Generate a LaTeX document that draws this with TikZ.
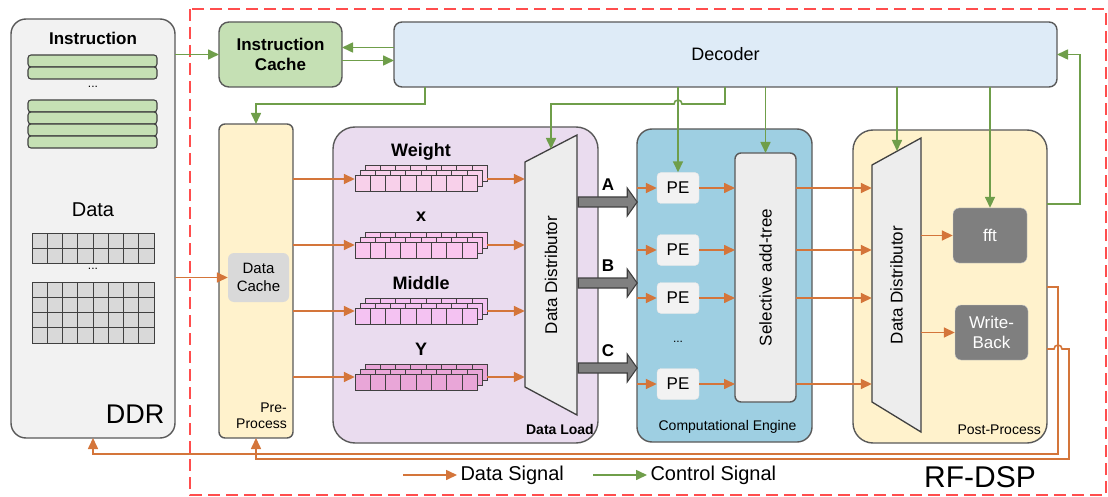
\documentclass[tikz,border=0pt]{standalone}
\usepackage{fontspec}
\setmainfont{Liberation Sans}
\usepackage{tikz}
\usetikzlibrary{arrows.meta,calc,positioning}
\definecolor{ddrgray}{HTML}{F2F2F2}
\definecolor{instgreen}{HTML}{C5E0B4}
\definecolor{decblue}{HTML}{DEEBF7}
\definecolor{preyellow}{HTML}{FFF2CC}
\definecolor{loadpurple}{HTML}{EADCEF}
\definecolor{engblue}{HTML}{9ECFE2}
\definecolor{distgray}{HTML}{EDEDED}
\definecolor{cellgray}{HTML}{D9D9D9}
\definecolor{darkbox}{HTML}{7F7F7F}
\definecolor{ctrlgreen}{HTML}{6F9E4A}
\definecolor{dataorange}{HTML}{D4753A}
\definecolor{dsred}{HTML}{FF4D4D}
\definecolor{wpink}{HTML}{F8D0EA}
\definecolor{xpink}{HTML}{FAC6EE}
\definecolor{mpink}{HTML}{F4C2F2}
\definecolor{ypink}{HTML}{E9A6D8}
\newcommand{\pxfont}[1]{\fontsize{#1}{\fpeval{1.15*#1}}\selectfont}
\newcommand{\regstack}[3]{% x, y of front row, fill
	\foreach \k in {2,1,0}
		\foreach \i in {0,...,7}
			\draw[cell, fill=#3] ({#1+\k*5+\i*15.3},{#2-\k*5}) rectangle ++(15.3,16);
}
\tikzset{%
	block/.style  = {draw=black!65, line width=1.4pt, inner sep=0pt, outer sep=0pt},
	region/.style = {draw=dsred, line width=1.6pt, dash pattern=on 12pt off 6pt},
	bar/.style    = {draw=black!75, fill=instgreen, line width=1.1pt, rounded corners=3pt},
	cell/.style   = {draw=black!75, line width=1pt},
	dist/.style   = {draw=black!75, fill=distgray, line width=1.3pt},
	pebox/.style  = {fill=ddrgray, draw=black!10, rounded corners=4pt, minimum width=42pt, minimum height=31pt, font=\pxfont{17}},
	darkbx/.style = {fill=darkbox, draw=black!20, rounded corners=6pt, minimum width=74pt, minimum height=55pt, text=white, font=\pxfont{17}, align=center},
	bigarrow/.style = {draw=black!75, fill=black!50, line width=1.1pt},
	tag/.style    = {font=\pxfont{14}, inner sep=0pt},
	ctrl/.style   = {draw=ctrlgreen, line width=1.6pt, -{Triangle[length=11pt,width=10pt]}},
	data/.style   = {draw=dataorange, line width=1.6pt, -{Triangle[length=11pt,width=10pt]}},
}
\begin{document}
\begin{tikzpicture}[x=1pt,y=-1pt]
\useasboundingbox (0,0) rectangle (1108,497);
% RF-DSP region
\draw[region] (190,9) rectangle (1106,495);
\node[font=\pxfont{30}] (rfdsp) at (980,477) {RF-DSP};

% DDR
\node[block, fill=ddrgray, rounded corners=15pt, minimum width=164pt, minimum height=419pt] (ddr) at (93,228.5) {};
\node[font=\bfseries\pxfont{17}] (instlbl) at (93,38) {Instruction};
\foreach \y in {55,67,100,112,124,136}
	\draw[bar] (28,\y) rectangle ++(129,12);
\node[font=\pxfont{12}] (instdots) at (93,87) {...};
\node[font=\pxfont{20}] (datalbl) at (93,210) {Data};
\foreach \r in {0,1}
	\foreach \c in {0,...,7}
		\draw[cell, fill=cellgray] ({32+\c*15.25},{233+\r*15}) rectangle ++(15.25,15);
\node[font=\pxfont{12}] (datadots) at (93,269) {...};
\foreach \r in {0,...,3}
	\foreach \c in {0,...,7}
		\draw[cell, fill=cellgray] ({32+\c*15.25},{282+\r*15.25}) rectangle ++(15.25,15.25);
\node[font=\pxfont{27}, anchor=base east] (ddrlbl) at (168,423) {DDR};

% top row
\node[block, fill=instgreen, rounded corners=10pt, minimum width=123pt, minimum height=65pt, font=\bfseries\pxfont{17}, align=center] (icache) at (280.5,54.5) {Instruction\\Cache};
\node[block, fill=decblue, rounded corners=8pt, minimum width=663pt, minimum height=65pt, font=\pxfont{18}] (decoder) at (725.5,54.5) {Decoder};

% pre-process
\node[block, fill=preyellow, rounded corners=6pt, minimum width=74pt, minimum height=314pt] (preproc) at (256,281) {};
\node[fill=cellgray, rounded corners=6pt, minimum width=61pt, minimum height=49pt, font=\pxfont{15}, align=center] (dcache) at (258.5,277.5) {Data\\Cache};
\node[tag, anchor=south east, align=right] (prelbl) at ([xshift=-6pt,yshift=9pt]preproc.south east) {Pre-\\Process};

% data load
\node[block, fill=loadpurple, rounded corners=22pt, minimum width=265pt, minimum height=316pt] (load) at (465.5,285) {};
\node[tag, font=\bfseries\pxfont{14}, anchor=south east] (loadlbl) at ([xshift=-4pt,yshift=8pt]load.south east) {Data Load};
\regstack{355}{176}{wpink}
\regstack{355}{242}{xpink}
\regstack{355}{308}{mpink}
\regstack{355}{374}{ypink}
\node[minimum width=132pt, minimum height=26pt, inner sep=0pt] (wstack) at (421,179) {};
\node[minimum width=132pt, minimum height=26pt, inner sep=0pt] (xstack) at (421,245) {};
\node[minimum width=132pt, minimum height=26pt, inner sep=0pt] (mstack) at (421,311) {};
\node[minimum width=132pt, minimum height=26pt, inner sep=0pt] (ystack) at (421,377) {};
\node[font=\bfseries\pxfont{18}] (wlbl) at (421,152) {Weight};
\node[font=\bfseries\pxfont{18}] (xlbl) at (421,217) {x};
\node[font=\bfseries\pxfont{18}] (mlbl) at (421,283) {Middle};
\node[font=\bfseries\pxfont{18}] (ylbl) at (421,349) {Y};
\draw[dist] (525,162) -- (577,135) -- (577,415) -- (525,387) -- cycle;
\node[minimum width=52pt, minimum height=280pt, inner sep=0pt, font=\pxfont{17}] (dist1) at (551,275) {\rotatebox{90}{Data Distributor}};
\coordinate (dist1in) at (551,149);

% computational engine
\node[block, fill=engblue, rounded corners=15pt, minimum width=175pt, minimum height=313pt] (engine) at (724.5,285.5) {};
\node[tag, anchor=south] (englbl) at ([xshift=3pt,yshift=8pt]engine.south) {Computational Engine};
\node[pebox] (pe1) at (678,188) {PE};
\node[pebox] (pe2) at (678,250) {PE};
\node[pebox] (pe3) at (678,298) {PE};
\node[pebox] (pe4) at (678,384) {PE};
\node[font=\pxfont{12}] (pedots) at (678,342) {...};
\node[block, fill=distgray, rounded corners=6pt, minimum width=61pt, minimum height=249pt, font=\pxfont{17}] (addtree) at (765.5,277.5) {\rotatebox{90}{Selective add-tree}};

% post-process
\node[block, fill=preyellow, rounded corners=20pt, minimum width=194pt, minimum height=313pt] (post) at (950,286.5) {};
\node[tag, anchor=south east] (postlbl) at ([xshift=-6pt,yshift=8pt]post.south east) {Post-Process};
\draw[dist] (872,165) -- (921,138) -- (921,432) -- (872,402) -- cycle;
\node[minimum width=49pt, minimum height=294pt, inner sep=0pt, font=\pxfont{17}] (dist2) at (896.5,285) {\rotatebox{90}{Data Distributor}};
\coordinate (dist2in) at (897,151);
\node[darkbx] (fft) at (990,235.5) {fft};
\node[darkbx, minimum width=73pt] (wback) at (991.5,332.5) {Write-\\Back};

% A, B, C buses
\foreach \n/\y in {A/202,B/283,C/368} {
	\draw[bigarrow] (dist1.east |- 0,\y) ++(1,-5) -- ++(49,0) -- ++(0,-9) -- ++(10,14) -- ++(-10,14) -- ++(0,-9) -- ++(-49,0) -- cycle;
	\node[font=\bfseries\pxfont{17}] (lbl\n) at (608,{\y-17}) {\n};
}

% control signals
\draw[ctrl] (ddr.east |- icache) -- (icache);
\draw[ctrl] ([yshift=7pt]decoder.west) -- ([yshift=7pt]icache.east);
\draw[ctrl] ([yshift=-6pt]icache.east) -- ([yshift=-6pt]decoder.west);
\draw[ctrl] (decoder.south -| 425,0) -- (425,104) -- (preproc.north |- 0,104) -- (preproc.north);
\draw[ctrl] (decoder.south -| 725,0) -- (725,104) -- (682,104) arc[start angle=0, end angle=180, radius=4pt] -- (dist1in |- 0,104) -- (dist1in);
\draw[ctrl] (decoder.south -| pe1) -- (pe1);
\draw[ctrl] (decoder.south -| addtree) -- (addtree);
\draw[ctrl] (decoder.south -| dist2in) -- (dist2in);
\draw[ctrl] (decoder.south -| fft) -- (fft);
\draw[ctrl] (post.east |- 0,204) -- (1080,204) -- (1080,0 |- decoder.east) -- (decoder.east);

% data signals
\draw[data] (ddr.east |- dcache) -- (dcache);
\foreach \s in {wstack,xstack,mstack,ystack} {
	\draw[data] (preproc.east |- \s) -- (\s);
	\draw[data] (\s) -- (\s -| dist1.west);
}
\foreach \p in {pe1,pe2,pe3,pe4} {
	\draw[data] (engine.west |- \p) -- (\p);
	\draw[data] (\p) -- (\p -| addtree.west);
	\draw[data] (addtree.east |- \p) -- (\p -| dist2.west);
}
\draw[data] (dist2.east |- fft) -- (fft);
\draw[data] (dist2.east |- wback) -- (wback);
\draw[data] (post.east |- 0,287) -- (1058,287) -- (1058,454) -- (ddr.south |- 0,454) -- (ddr.south);
\draw[data] (post.east |- 0,349) -- (1054,349) arc[start angle=180, end angle=0, radius=4pt] -- (1069,349) -- (1069,459) -- (preproc.south |- 0,459) -- (preproc.south);

% legend
\node[font=\pxfont{20}, anchor=west] (dsig) at (457,475) {Data Signal};
\coordinate (dsigstart) at (403,475);
\draw[data] (dsigstart) -- (dsig.west);
\node[font=\pxfont{20}, anchor=west] (csig) at (647,475) {Control Signal};
\coordinate (csigstart) at (593,475);
\draw[ctrl] (csigstart) -- (csig.west);
\end{tikzpicture}
\end{document}
